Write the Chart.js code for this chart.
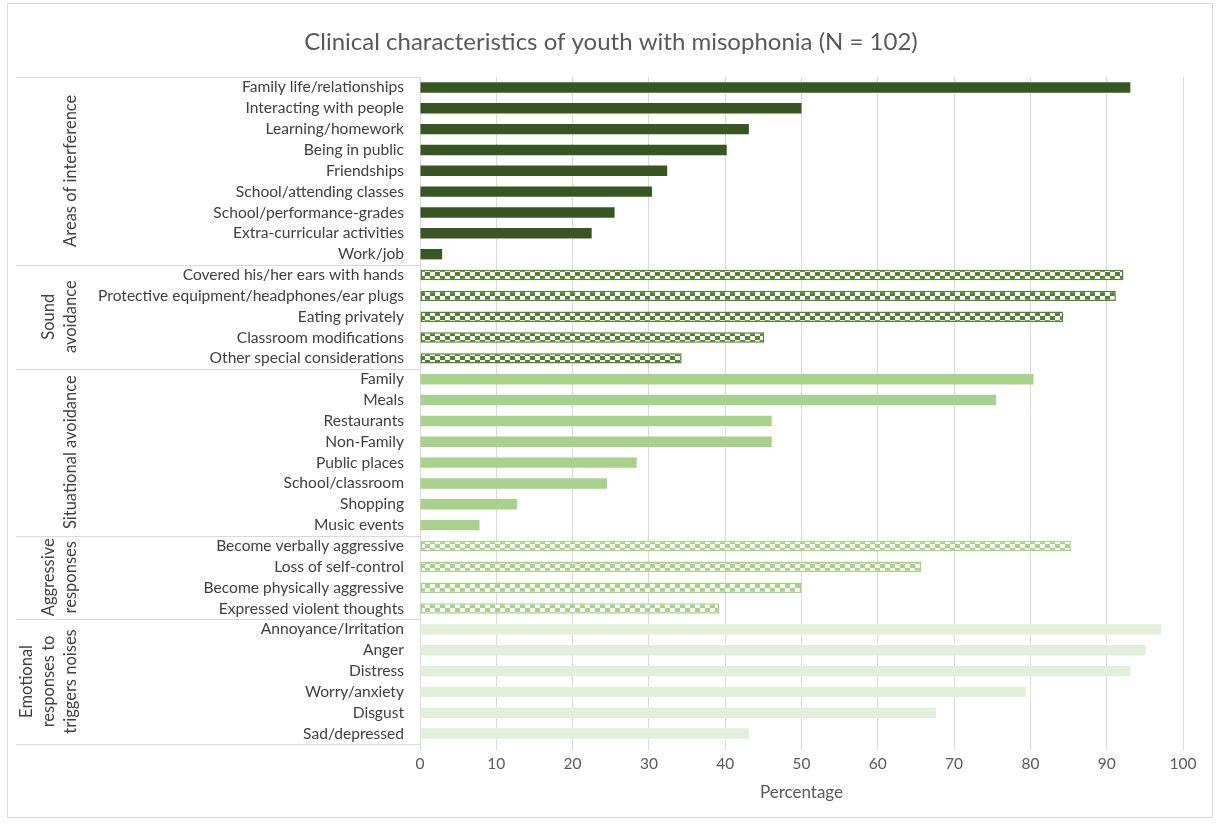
<!DOCTYPE html>
<html>
<head>
<meta charset="utf-8">
<title>Clinical characteristics of youth with misophonia</title>
<script src="https://cdn.jsdelivr.net/npm/chart.js@4/dist/chart.umd.min.js"></script>
<style>
  html, body { margin: 0; padding: 0; background: #ffffff; }
  #wrap { position: relative; width: 1220px; height: 825px; }
</style>
</head>
<body>
<div id="wrap"><canvas id="chart" width="1220" height="825"></canvas></div>
<script>
// Percentages of youth (N = 102) per item, grouped by domain
const interferenceLabels = ["Family life/relationships", "Interacting with people", "Learning/homework", "Being in public", "Friendships", "School/attending classes", "School/performance-grades", "Extra-curricular activities", "Work/job"];
const interferenceValues = [93.1, 50.0, 43.1, 40.2, 32.4, 30.4, 25.5, 22.5, 2.9];

const soundLabels = ["Covered his/her ears with hands", "Protective equipment/headphones/ear plugs", "Eating privately", "Classroom modifications", "Other special considerations"];
const soundValues = [92.2, 91.2, 84.3, 45.1, 34.3];

const situationalLabels = ["Family", "Meals", "Restaurants", "Non-Family", "Public places", "School/classroom", "Shopping", "Music events"];
const situationalValues = [80.4, 75.5, 46.1, 46.1, 28.4, 24.5, 12.7, 7.8];

const aggressiveLabels = ["Become verbally aggressive", "Loss of self-control", "Become physically aggressive", "Expressed violent thoughts"];
const aggressiveValues = [85.3, 65.7, 50.0, 39.2];

const emotionalLabels = ["Annoyance/Irritation", "Anger", "Distress", "Worry/anxiety", "Disgust", "Sad/depressed"];
const emotionalValues = [97.1, 95.1, 93.1, 79.4, 67.6, 43.1];

const groupNames = [
  ["Areas of interference"],
  ["Sound", "avoidance"],
  ["Situational avoidance"],
  ["Aggressive", "responses"],
  ["Emotional", "responses to", "triggers noises"]
];

const xTicks = [0, 10, 20, 30, 40, 50, 60, 70, 80, 90, 100];
const chartTitle = "Clinical characteristics of youth with misophonia (N = 102)";
const axisTitle = "Percentage";

// Fill pattern: checkerboard of the group colour and white
function checker(color) {
  const c = document.createElement('canvas');
  c.width = 10; c.height = 8;
  const g = c.getContext('2d');
  g.fillStyle = color; g.fillRect(0, 0, 10, 8);
  g.fillStyle = '#ffffff';
  g.fillRect(0, 0, 5, 4);
  g.fillRect(5, 4, 5, 4);
  return g.createPattern(c, 'repeat');
}

const groups = [
  { labels: interferenceLabels, values: interferenceValues, color: '#375623', patterned: false },
  { labels: soundLabels,        values: soundValues,        color: '#548235', patterned: true },
  { labels: situationalLabels,  values: situationalValues,  color: '#A9D18E', patterned: false },
  { labels: aggressiveLabels,   values: aggressiveValues,   color: '#A9D18E', patterned: true },
  { labels: emotionalLabels,    values: emotionalValues,    color: '#E2EFDA', patterned: false }
];

const allLabels = [], allValues = [], fills = [], borders = [], borderWidths = [], boundaries = [0];
groups.forEach(gr => {
  const fill = gr.patterned ? checker(gr.color) : gr.color;
  gr.labels.forEach((l, i) => {
    allLabels.push(l);
    allValues.push(gr.values[i]);
    fills.push(fill);
    borders.push(gr.color);
    borderWidths.push(gr.patterned ? 1.5 : 0);
  });
  boundaries.push(allLabels.length);
});

const FONT = 'Lato, "Open Sans", sans-serif';

// Frame, title, group separators and rotated group names
const decorations = {
  id: 'decorations',
  afterDraw(chart) {
    const ctx = chart.ctx;
    const ys = chart.scales.y;
    const area = chart.chartArea;
    ctx.save();
    ctx.strokeStyle = '#d9d9d9';
    ctx.lineWidth = 1;
    ctx.strokeRect(7.5, 3.5, 1205, 814);

    ctx.fillStyle = '#595959';
    ctx.font = '24px ' + FONT;
    ctx.textAlign = 'center';
    ctx.textBaseline = 'middle';
    ctx.fillText(chartTitle, 611, 42);

    const band = ys.getPixelForValue(1) - ys.getPixelForValue(0);
    const edge = k => k < allLabels.length
      ? ys.getPixelForValue(k) - band / 2
      : ys.getPixelForValue(allLabels.length - 1) + band / 2;

    ctx.beginPath();
    boundaries.forEach(k => {
      const y = Math.round(edge(k)) + 0.5;
      ctx.moveTo(16, y);
      ctx.lineTo(area.left, y);
    });
    ctx.stroke();

    ctx.fillStyle = '#404040';
    ctx.font = '16.5px ' + FONT;
    ctx.textAlign = 'center';
    ctx.textBaseline = 'middle';
    groupNames.forEach((lines, gi) => {
      const yc = (edge(boundaries[gi]) + edge(boundaries[gi + 1])) / 2;
      lines.forEach((line, li) => {
        const x = 71 - 22 * (lines.length - 1 - li);
        ctx.save();
        ctx.translate(x, yc);
        ctx.rotate(-Math.PI / 2);
        ctx.fillText(line, 0, 0);
        ctx.restore();
      });
    });
    ctx.restore();
  }
};

new Chart(document.getElementById('chart'), {
  type: 'bar',
  data: {
    labels: allLabels,
    datasets: [{
      data: allValues,
      backgroundColor: fills,
      borderColor: borders,
      borderWidth: borderWidths,
      borderSkipped: false,
      barPercentage: 0.5,
      categoryPercentage: 1.0
    }]
  },
  options: {
    indexAxis: 'y',
    responsive: false,
    animation: false,
    devicePixelRatio: 1,
    layout: { padding: { top: 77, right: 37, bottom: 0, left: 0 } },
    plugins: {
      legend: { display: false },
      title: { display: false },
      tooltip: { enabled: false }
    },
    scales: {
      x: {
        type: 'linear',
        position: 'bottom',
        min: 0,
        max: 100,
        afterBuildTicks: s => { s.ticks = xTicks.map(v => ({ value: v })); },
        grid: { color: '#d9d9d9', lineWidth: 1, drawTicks: true, tickLength: 6 },
        border: { display: false },
        ticks: { color: '#595959', font: { family: FONT, size: 15.5 }, padding: 5, maxRotation: 0 },
        title: { display: true, text: axisTitle, color: '#595959', font: { family: FONT, size: 17 }, padding: { top: 4, bottom: 22 } },
        afterFit: s => { s.height = 81; }
      },
      y: {
        type: 'category',
        grid: { display: false, drawTicks: false },
        border: { display: true, color: '#d9d9d9', width: 1 },
        ticks: { color: '#404040', font: { family: FONT, size: 15.6 }, padding: 16, autoSkip: false },
        afterFit: s => { s.width = 420; }
      }
    }
  },
  plugins: [decorations]
});
</script>
</body>
</html>
